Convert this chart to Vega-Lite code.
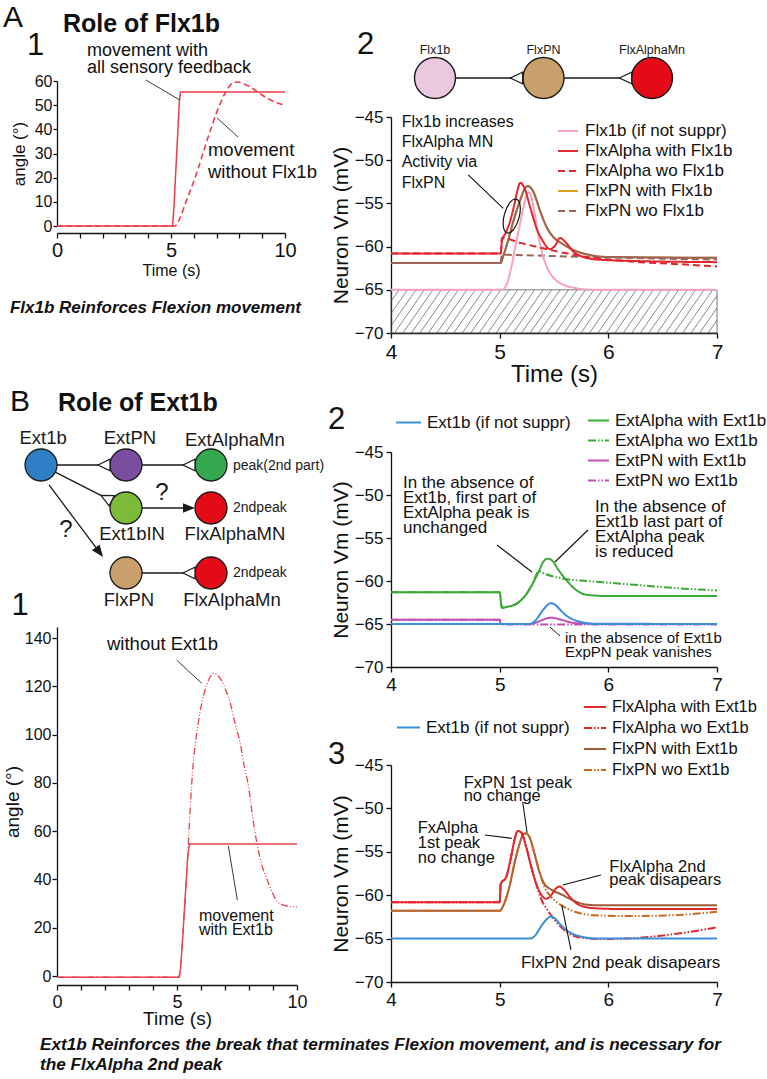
{
  "$schema": "https://vega.github.io/schema/vega-lite/v6.json",
  "background": "white",
  "padding": {"left": 3, "top": 0, "right": 0, "bottom": 0},
  "config": {
    "view": {"stroke": null},
    "font": "Liberation Sans",
    "axis": {"domainColor": "#111111", "tickColor": "#111111", "labelColor": "#111111", "titleColor": "#111111", "titleFontWeight": "normal", "grid": false, "domainWidth": 1.3, "tickWidth": 1.3, "tickSize": 5, "tickCount": 30, "labelFont": "Liberation Sans", "titleFont": "Liberation Sans", "labelFlush": false, "labelOverlap": false},
    "legend": {"padding": 0, "labelColor": "#111111", "labelFont": "Liberation Sans"}
  },
  "datasets": {
    "a1": [
      {"s": "with", "t": 0, "v": 0}, {"s": "with", "t": 5.07, "v": 0}, {"s": "with", "t": 5.13, "v": 8}, {"s": "with", "t": 5.37, "v": 52}, {"s": "with", "t": 5.42, "v": 55.5}, {"s": "with", "t": 10, "v": 55.5},
      {"s": "without", "t": 0, "v": 0}, {"s": "without", "t": 5.18, "v": 0}, {"s": "without", "t": 5.3, "v": 1.5}, {"s": "without", "t": 5.45, "v": 4.5}, {"s": "without", "t": 5.6, "v": 8.5}, {"s": "without", "t": 5.8, "v": 13.5}, {"s": "without", "t": 6.0, "v": 18.5}, {"s": "without", "t": 6.2, "v": 24}, {"s": "without", "t": 6.4, "v": 30}, {"s": "without", "t": 6.6, "v": 36}, {"s": "without", "t": 6.8, "v": 41.5}, {"s": "without", "t": 7.0, "v": 47}, {"s": "without", "t": 7.2, "v": 51.5}, {"s": "without", "t": 7.4, "v": 55.5}, {"s": "without", "t": 7.6, "v": 58.3}, {"s": "without", "t": 7.8, "v": 59.6}, {"s": "without", "t": 8.0, "v": 59.5}, {"s": "without", "t": 8.2, "v": 58.8}, {"s": "without", "t": 8.4, "v": 57.9}, {"s": "without", "t": 8.6, "v": 56.8}, {"s": "without", "t": 8.8, "v": 55.5}, {"s": "without", "t": 9.0, "v": 54.2}, {"s": "without", "t": 9.2, "v": 53}, {"s": "without", "t": 9.4, "v": 52}, {"s": "without", "t": 9.6, "v": 51.1}, {"s": "without", "t": 9.8, "v": 50.5}, {"s": "without", "t": 9.95, "v": 50.2}
    ],
    "b1": [
      {"s": "with", "t": 0, "v": -0.5}, {"s": "with", "t": 5.08, "v": -0.5}, {"s": "with", "t": 5.15, "v": 3}, {"s": "with", "t": 5.25, "v": 18}, {"s": "with", "t": 5.35, "v": 34}, {"s": "with", "t": 5.45, "v": 50}, {"s": "with", "t": 5.52, "v": 54.7}, {"s": "with", "t": 10, "v": 54.7},
      {"s": "without", "t": 0, "v": -0.5}, {"s": "without", "t": 5.08, "v": -0.5}, {"s": "without", "t": 5.15, "v": 3}, {"s": "without", "t": 5.25, "v": 18}, {"s": "without", "t": 5.35, "v": 34}, {"s": "without", "t": 5.45, "v": 50}, {"s": "without", "t": 5.5, "v": 60}, {"s": "without", "t": 5.56, "v": 71}, {"s": "without", "t": 5.65, "v": 85}, {"s": "without", "t": 5.76, "v": 96}, {"s": "without", "t": 5.87, "v": 104}, {"s": "without", "t": 5.97, "v": 110}, {"s": "without", "t": 6.1, "v": 116}, {"s": "without", "t": 6.25, "v": 121}, {"s": "without", "t": 6.4, "v": 124.2}, {"s": "without", "t": 6.55, "v": 125.5}, {"s": "without", "t": 6.7, "v": 124.5}, {"s": "without", "t": 6.88, "v": 122}, {"s": "without", "t": 7.05, "v": 118}, {"s": "without", "t": 7.22, "v": 113}, {"s": "without", "t": 7.4, "v": 105.5}, {"s": "without", "t": 7.64, "v": 96}, {"s": "without", "t": 7.8, "v": 87}, {"s": "without", "t": 7.99, "v": 78}, {"s": "without", "t": 8.15, "v": 66}, {"s": "without", "t": 8.33, "v": 55}, {"s": "without", "t": 8.55, "v": 45.5}, {"s": "without", "t": 8.75, "v": 40}, {"s": "without", "t": 8.95, "v": 35}, {"s": "without", "t": 9.17, "v": 31}, {"s": "without", "t": 9.4, "v": 29.5}, {"s": "without", "t": 9.58, "v": 29}, {"s": "without", "t": 9.8, "v": 28.7}, {"s": "without", "t": 10, "v": 28.6}
    ],
    "a2": [
      {"s": "Flx1b (if not suppr)", "t": 4, "v": -65}, {"s": "Flx1b (if not suppr)", "t": 5.02, "v": -65}, {"s": "Flx1b (if not suppr)", "t": 5.06, "v": -64.5}, {"s": "Flx1b (if not suppr)", "t": 5.1, "v": -62.8}, {"s": "Flx1b (if not suppr)", "t": 5.14, "v": -60.3}, {"s": "Flx1b (if not suppr)", "t": 5.18, "v": -57.8}, {"s": "Flx1b (if not suppr)", "t": 5.22, "v": -55.4}, {"s": "Flx1b (if not suppr)", "t": 5.25, "v": -54.0}, {"s": "Flx1b (if not suppr)", "t": 5.27, "v": -53.7}, {"s": "Flx1b (if not suppr)", "t": 5.29, "v": -54.2}, {"s": "Flx1b (if not suppr)", "t": 5.32, "v": -56.0}, {"s": "Flx1b (if not suppr)", "t": 5.35, "v": -58.3}, {"s": "Flx1b (if not suppr)", "t": 5.38, "v": -60.2}, {"s": "Flx1b (if not suppr)", "t": 5.42, "v": -61.9}, {"s": "Flx1b (if not suppr)", "t": 5.47, "v": -63.2}, {"s": "Flx1b (if not suppr)", "t": 5.53, "v": -64.0}, {"s": "Flx1b (if not suppr)", "t": 5.6, "v": -64.5}, {"s": "Flx1b (if not suppr)", "t": 5.7, "v": -64.8}, {"s": "Flx1b (if not suppr)", "t": 5.85, "v": -65}, {"s": "Flx1b (if not suppr)", "t": 7, "v": -65},
      {"s": "FlxAlpha with Flx1b", "t": 4, "v": -60.8}, {"s": "FlxAlpha with Flx1b", "t": 5.01, "v": -60.8}, {"s": "FlxAlpha with Flx1b", "t": 5.02, "v": -59.4}, {"s": "FlxAlpha with Flx1b", "t": 5.06, "v": -58.3}, {"s": "FlxAlpha with Flx1b", "t": 5.1, "v": -56.9}, {"s": "FlxAlpha with Flx1b", "t": 5.13, "v": -55.4}, {"s": "FlxAlpha with Flx1b", "t": 5.16, "v": -53.7}, {"s": "FlxAlpha with Flx1b", "t": 5.19, "v": -52.6}, {"s": "FlxAlpha with Flx1b", "t": 5.23, "v": -53.3}, {"s": "FlxAlpha with Flx1b", "t": 5.28, "v": -55.4}, {"s": "FlxAlpha with Flx1b", "t": 5.34, "v": -57.9}, {"s": "FlxAlpha with Flx1b", "t": 5.4, "v": -59.4}, {"s": "FlxAlpha with Flx1b", "t": 5.46, "v": -60.3}, {"s": "FlxAlpha with Flx1b", "t": 5.51, "v": -59.9}, {"s": "FlxAlpha with Flx1b", "t": 5.555, "v": -59.0}, {"s": "FlxAlpha with Flx1b", "t": 5.6, "v": -59.4}, {"s": "FlxAlpha with Flx1b", "t": 5.68, "v": -60.6}, {"s": "FlxAlpha with Flx1b", "t": 5.77, "v": -61.2}, {"s": "FlxAlpha with Flx1b", "t": 5.9, "v": -61.5}, {"s": "FlxAlpha with Flx1b", "t": 6.2, "v": -61.65}, {"s": "FlxAlpha with Flx1b", "t": 7, "v": -61.8},
      {"s": "FlxAlpha wo Flx1b", "t": 4, "v": -60.8}, {"s": "FlxAlpha wo Flx1b", "t": 5.01, "v": -60.8}, {"s": "FlxAlpha wo Flx1b", "t": 5.02, "v": -59.0}, {"s": "FlxAlpha wo Flx1b", "t": 5.2, "v": -59.6}, {"s": "FlxAlpha wo Flx1b", "t": 5.4, "v": -60.2}, {"s": "FlxAlpha wo Flx1b", "t": 5.6, "v": -60.75}, {"s": "FlxAlpha wo Flx1b", "t": 5.8, "v": -61.2}, {"s": "FlxAlpha wo Flx1b", "t": 6.0, "v": -61.5}, {"s": "FlxAlpha wo Flx1b", "t": 6.3, "v": -61.8}, {"s": "FlxAlpha wo Flx1b", "t": 6.6, "v": -62.0}, {"s": "FlxAlpha wo Flx1b", "t": 7, "v": -62.3},
      {"s": "FlxPN with Flx1b", "t": 4, "v": -61.9}, {"s": "FlxPN with Flx1b", "t": 5.01, "v": -61.9}, {"s": "FlxPN with Flx1b", "t": 5.03, "v": -61.2}, {"s": "FlxPN with Flx1b", "t": 5.08, "v": -59.2}, {"s": "FlxPN with Flx1b", "t": 5.13, "v": -56.9}, {"s": "FlxPN with Flx1b", "t": 5.19, "v": -54.6}, {"s": "FlxPN with Flx1b", "t": 5.23, "v": -53.3}, {"s": "FlxPN with Flx1b", "t": 5.26, "v": -53.0}, {"s": "FlxPN with Flx1b", "t": 5.31, "v": -53.65}, {"s": "FlxPN with Flx1b", "t": 5.37, "v": -55.8}, {"s": "FlxPN with Flx1b", "t": 5.43, "v": -57.7}, {"s": "FlxPN with Flx1b", "t": 5.49, "v": -58.85}, {"s": "FlxPN with Flx1b", "t": 5.58, "v": -59.7}, {"s": "FlxPN with Flx1b", "t": 5.68, "v": -60.4}, {"s": "FlxPN with Flx1b", "t": 5.77, "v": -60.8}, {"s": "FlxPN with Flx1b", "t": 5.98, "v": -61.2}, {"s": "FlxPN with Flx1b", "t": 7, "v": -61.3},
      {"s": "FlxPN wo Flx1b", "t": 4, "v": -61.9}, {"s": "FlxPN wo Flx1b", "t": 5.01, "v": -61.9}, {"s": "FlxPN wo Flx1b", "t": 5.02, "v": -60.95}, {"s": "FlxPN wo Flx1b", "t": 5.5, "v": -61.1}, {"s": "FlxPN wo Flx1b", "t": 6, "v": -61.25}, {"s": "FlxPN wo Flx1b", "t": 6.5, "v": -61.4}, {"s": "FlxPN wo Flx1b", "t": 7, "v": -61.5}
    ],
    "b2": [
      {"s": "ExtAlpha with Ext1b", "t": 4, "v": -61.3}, {"s": "ExtAlpha with Ext1b", "t": 5.0, "v": -61.3}, {"s": "ExtAlpha with Ext1b", "t": 5.02, "v": -63.1}, {"s": "ExtAlpha with Ext1b", "t": 5.07, "v": -63.0}, {"s": "ExtAlpha with Ext1b", "t": 5.16, "v": -62.6}, {"s": "ExtAlpha with Ext1b", "t": 5.235, "v": -61.7}, {"s": "ExtAlpha with Ext1b", "t": 5.3, "v": -60.4}, {"s": "ExtAlpha with Ext1b", "t": 5.36, "v": -58.9}, {"s": "ExtAlpha with Ext1b", "t": 5.4, "v": -57.8}, {"s": "ExtAlpha with Ext1b", "t": 5.44, "v": -57.4}, {"s": "ExtAlpha with Ext1b", "t": 5.48, "v": -57.6}, {"s": "ExtAlpha with Ext1b", "t": 5.54, "v": -58.7}, {"s": "ExtAlpha with Ext1b", "t": 5.62, "v": -60.0}, {"s": "ExtAlpha with Ext1b", "t": 5.71, "v": -61.1}, {"s": "ExtAlpha with Ext1b", "t": 5.8, "v": -61.6}, {"s": "ExtAlpha with Ext1b", "t": 6.0, "v": -61.75}, {"s": "ExtAlpha with Ext1b", "t": 7, "v": -61.75},
      {"s": "ExtAlpha wo Ext1b", "t": 4, "v": -61.3}, {"s": "ExtAlpha wo Ext1b", "t": 5.0, "v": -61.3}, {"s": "ExtAlpha wo Ext1b", "t": 5.02, "v": -63.1}, {"s": "ExtAlpha wo Ext1b", "t": 5.07, "v": -63.0}, {"s": "ExtAlpha wo Ext1b", "t": 5.16, "v": -62.6}, {"s": "ExtAlpha wo Ext1b", "t": 5.235, "v": -61.7}, {"s": "ExtAlpha wo Ext1b", "t": 5.3, "v": -60.4}, {"s": "ExtAlpha wo Ext1b", "t": 5.36, "v": -58.9}, {"s": "ExtAlpha wo Ext1b", "t": 5.42, "v": -59.2}, {"s": "ExtAlpha wo Ext1b", "t": 5.5, "v": -59.5}, {"s": "ExtAlpha wo Ext1b", "t": 5.62, "v": -59.8}, {"s": "ExtAlpha wo Ext1b", "t": 5.8, "v": -60.0}, {"s": "ExtAlpha wo Ext1b", "t": 6.0, "v": -60.2}, {"s": "ExtAlpha wo Ext1b", "t": 6.3, "v": -60.5}, {"s": "ExtAlpha wo Ext1b", "t": 6.6, "v": -60.8}, {"s": "ExtAlpha wo Ext1b", "t": 7, "v": -61.1},
      {"s": "ExtPN with Ext1b", "t": 4, "v": -64.5}, {"s": "ExtPN with Ext1b", "t": 5.0, "v": -64.5}, {"s": "ExtPN with Ext1b", "t": 5.01, "v": -65}, {"s": "ExtPN with Ext1b", "t": 5.28, "v": -65}, {"s": "ExtPN with Ext1b", "t": 5.33, "v": -64.85}, {"s": "ExtPN with Ext1b", "t": 5.38, "v": -64.6}, {"s": "ExtPN with Ext1b", "t": 5.43, "v": -64.35}, {"s": "ExtPN with Ext1b", "t": 5.47, "v": -64.27}, {"s": "ExtPN with Ext1b", "t": 5.52, "v": -64.35}, {"s": "ExtPN with Ext1b", "t": 5.58, "v": -64.55}, {"s": "ExtPN with Ext1b", "t": 5.65, "v": -64.8}, {"s": "ExtPN with Ext1b", "t": 5.75, "v": -64.95}, {"s": "ExtPN with Ext1b", "t": 7, "v": -65},
      {"s": "ExtPN wo Ext1b", "t": 4, "v": -64.5}, {"s": "ExtPN wo Ext1b", "t": 5.0, "v": -64.5}, {"s": "ExtPN wo Ext1b", "t": 5.01, "v": -65.05}, {"s": "ExtPN wo Ext1b", "t": 7, "v": -65.05},
      {"s": "Ext1b (if not suppr)", "t": 4, "v": -65}, {"s": "Ext1b (if not suppr)", "t": 5.28, "v": -65}, {"s": "Ext1b (if not suppr)", "t": 5.33, "v": -64.6}, {"s": "Ext1b (if not suppr)", "t": 5.38, "v": -63.7}, {"s": "Ext1b (if not suppr)", "t": 5.43, "v": -62.9}, {"s": "Ext1b (if not suppr)", "t": 5.47, "v": -62.55}, {"s": "Ext1b (if not suppr)", "t": 5.51, "v": -62.75}, {"s": "Ext1b (if not suppr)", "t": 5.56, "v": -63.4}, {"s": "Ext1b (if not suppr)", "t": 5.62, "v": -64.1}, {"s": "Ext1b (if not suppr)", "t": 5.7, "v": -64.6}, {"s": "Ext1b (if not suppr)", "t": 5.8, "v": -64.9}, {"s": "Ext1b (if not suppr)", "t": 5.9, "v": -65}, {"s": "Ext1b (if not suppr)", "t": 7, "v": -65}
    ],
    "b3": [
      {"s": "FlxAlpha with Ext1b", "t": 4, "v": -60.8}, {"s": "FlxAlpha with Ext1b", "t": 5.0, "v": -60.8}, {"s": "FlxAlpha with Ext1b", "t": 5.01, "v": -58.7}, {"s": "FlxAlpha with Ext1b", "t": 5.06, "v": -57.9}, {"s": "FlxAlpha with Ext1b", "t": 5.105, "v": -55.6}, {"s": "FlxAlpha with Ext1b", "t": 5.136, "v": -53.65}, {"s": "FlxAlpha with Ext1b", "t": 5.167, "v": -52.6}, {"s": "FlxAlpha with Ext1b", "t": 5.2, "v": -52.8}, {"s": "FlxAlpha with Ext1b", "t": 5.243, "v": -54.4}, {"s": "FlxAlpha with Ext1b", "t": 5.29, "v": -56.7}, {"s": "FlxAlpha with Ext1b", "t": 5.335, "v": -58.65}, {"s": "FlxAlpha with Ext1b", "t": 5.38, "v": -59.9}, {"s": "FlxAlpha with Ext1b", "t": 5.43, "v": -60.4}, {"s": "FlxAlpha with Ext1b", "t": 5.474, "v": -60.0}, {"s": "FlxAlpha with Ext1b", "t": 5.52, "v": -59.2}, {"s": "FlxAlpha with Ext1b", "t": 5.55, "v": -59.0}, {"s": "FlxAlpha with Ext1b", "t": 5.59, "v": -59.35}, {"s": "FlxAlpha with Ext1b", "t": 5.66, "v": -60.4}, {"s": "FlxAlpha with Ext1b", "t": 5.735, "v": -61.15}, {"s": "FlxAlpha with Ext1b", "t": 5.87, "v": -61.5}, {"s": "FlxAlpha with Ext1b", "t": 6.15, "v": -61.6}, {"s": "FlxAlpha with Ext1b", "t": 7, "v": -61.6},
      {"s": "FlxAlpha wo Ext1b", "t": 4, "v": -60.8}, {"s": "FlxAlpha wo Ext1b", "t": 5.0, "v": -60.8}, {"s": "FlxAlpha wo Ext1b", "t": 5.01, "v": -58.7}, {"s": "FlxAlpha wo Ext1b", "t": 5.06, "v": -57.9}, {"s": "FlxAlpha wo Ext1b", "t": 5.105, "v": -55.6}, {"s": "FlxAlpha wo Ext1b", "t": 5.136, "v": -53.65}, {"s": "FlxAlpha wo Ext1b", "t": 5.167, "v": -52.6}, {"s": "FlxAlpha wo Ext1b", "t": 5.2, "v": -52.8}, {"s": "FlxAlpha wo Ext1b", "t": 5.243, "v": -54.4}, {"s": "FlxAlpha wo Ext1b", "t": 5.29, "v": -56.7}, {"s": "FlxAlpha wo Ext1b", "t": 5.335, "v": -58.65}, {"s": "FlxAlpha wo Ext1b", "t": 5.38, "v": -60.4}, {"s": "FlxAlpha wo Ext1b", "t": 5.44, "v": -61.7}, {"s": "FlxAlpha wo Ext1b", "t": 5.535, "v": -63.3}, {"s": "FlxAlpha wo Ext1b", "t": 5.63, "v": -64.35}, {"s": "FlxAlpha wo Ext1b", "t": 5.75, "v": -64.9}, {"s": "FlxAlpha wo Ext1b", "t": 5.93, "v": -65.05}, {"s": "FlxAlpha wo Ext1b", "t": 6.15, "v": -65.0}, {"s": "FlxAlpha wo Ext1b", "t": 6.46, "v": -64.7}, {"s": "FlxAlpha wo Ext1b", "t": 6.76, "v": -64.2}, {"s": "FlxAlpha wo Ext1b", "t": 7, "v": -63.7},
      {"s": "FlxPN with Ext1b", "t": 4, "v": -61.8}, {"s": "FlxPN with Ext1b", "t": 5.0, "v": -61.8}, {"s": "FlxPN with Ext1b", "t": 5.04, "v": -61.0}, {"s": "FlxPN with Ext1b", "t": 5.09, "v": -59.0}, {"s": "FlxPN with Ext1b", "t": 5.136, "v": -56.35}, {"s": "FlxPN with Ext1b", "t": 5.18, "v": -54.2}, {"s": "FlxPN with Ext1b", "t": 5.22, "v": -52.96}, {"s": "FlxPN with Ext1b", "t": 5.243, "v": -52.9}, {"s": "FlxPN with Ext1b", "t": 5.274, "v": -53.3}, {"s": "FlxPN with Ext1b", "t": 5.32, "v": -55.2}, {"s": "FlxPN with Ext1b", "t": 5.366, "v": -57.3}, {"s": "FlxPN with Ext1b", "t": 5.41, "v": -58.65}, {"s": "FlxPN with Ext1b", "t": 5.474, "v": -59.35}, {"s": "FlxPN with Ext1b", "t": 5.566, "v": -59.9}, {"s": "FlxPN with Ext1b", "t": 5.66, "v": -60.5}, {"s": "FlxPN with Ext1b", "t": 5.75, "v": -60.96}, {"s": "FlxPN with Ext1b", "t": 5.87, "v": -61.15}, {"s": "FlxPN with Ext1b", "t": 7, "v": -61.15},
      {"s": "FlxPN wo Ext1b", "t": 4, "v": -61.8}, {"s": "FlxPN wo Ext1b", "t": 5.0, "v": -61.8}, {"s": "FlxPN wo Ext1b", "t": 5.04, "v": -61.0}, {"s": "FlxPN wo Ext1b", "t": 5.09, "v": -59.0}, {"s": "FlxPN wo Ext1b", "t": 5.136, "v": -56.35}, {"s": "FlxPN wo Ext1b", "t": 5.18, "v": -54.2}, {"s": "FlxPN wo Ext1b", "t": 5.22, "v": -52.96}, {"s": "FlxPN wo Ext1b", "t": 5.243, "v": -52.9}, {"s": "FlxPN wo Ext1b", "t": 5.274, "v": -53.3}, {"s": "FlxPN wo Ext1b", "t": 5.32, "v": -55.2}, {"s": "FlxPN wo Ext1b", "t": 5.366, "v": -57.3}, {"s": "FlxPN wo Ext1b", "t": 5.41, "v": -59.0}, {"s": "FlxPN wo Ext1b", "t": 5.474, "v": -60.2}, {"s": "FlxPN wo Ext1b", "t": 5.566, "v": -61.15}, {"s": "FlxPN wo Ext1b", "t": 5.69, "v": -61.9}, {"s": "FlxPN wo Ext1b", "t": 5.87, "v": -62.3}, {"s": "FlxPN wo Ext1b", "t": 6.15, "v": -62.4}, {"s": "FlxPN wo Ext1b", "t": 6.61, "v": -62.3}, {"s": "FlxPN wo Ext1b", "t": 7, "v": -61.9},
      {"s": "Ext1b (if not suppr)", "t": 4, "v": -65}, {"s": "Ext1b (if not suppr)", "t": 5.29, "v": -65}, {"s": "Ext1b (if not suppr)", "t": 5.33, "v": -64.6}, {"s": "Ext1b (if not suppr)", "t": 5.38, "v": -63.6}, {"s": "Ext1b (if not suppr)", "t": 5.43, "v": -62.8}, {"s": "Ext1b (if not suppr)", "t": 5.47, "v": -62.45}, {"s": "Ext1b (if not suppr)", "t": 5.51, "v": -62.7}, {"s": "Ext1b (if not suppr)", "t": 5.56, "v": -63.4}, {"s": "Ext1b (if not suppr)", "t": 5.62, "v": -64.1}, {"s": "Ext1b (if not suppr)", "t": 5.7, "v": -64.6}, {"s": "Ext1b (if not suppr)", "t": 5.8, "v": -64.9}, {"s": "Ext1b (if not suppr)", "t": 5.9, "v": -65}, {"s": "Ext1b (if not suppr)", "t": 7, "v": -65}
    ],
    "hatch": [
      {"h0": 3.72, "h1": 3.996}, {"h0": 3.798, "h1": 4.074}, {"h0": 3.876, "h1": 4.152}, {"h0": 3.954, "h1": 4.23}, {"h0": 4.032, "h1": 4.308}, {"h0": 4.11, "h1": 4.386}, {"h0": 4.188, "h1": 4.464}, {"h0": 4.266, "h1": 4.542}, {"h0": 4.344, "h1": 4.62}, {"h0": 4.422, "h1": 4.698}, {"h0": 4.5, "h1": 4.776}, {"h0": 4.578, "h1": 4.854}, {"h0": 4.656, "h1": 4.932}, {"h0": 4.734, "h1": 5.01}, {"h0": 4.812, "h1": 5.088}, {"h0": 4.89, "h1": 5.166}, {"h0": 4.968, "h1": 5.244}, {"h0": 5.046, "h1": 5.322}, {"h0": 5.124, "h1": 5.4}, {"h0": 5.202, "h1": 5.478}, {"h0": 5.28, "h1": 5.556}, {"h0": 5.358, "h1": 5.634}, {"h0": 5.436, "h1": 5.712}, {"h0": 5.514, "h1": 5.79}, {"h0": 5.592, "h1": 5.868}, {"h0": 5.67, "h1": 5.946}, {"h0": 5.748, "h1": 6.024}, {"h0": 5.826, "h1": 6.102}, {"h0": 5.904, "h1": 6.18}, {"h0": 5.982, "h1": 6.258}, {"h0": 6.06, "h1": 6.336}, {"h0": 6.138, "h1": 6.414}, {"h0": 6.216, "h1": 6.492}, {"h0": 6.294, "h1": 6.57}, {"h0": 6.372, "h1": 6.648}, {"h0": 6.45, "h1": 6.726}, {"h0": 6.528, "h1": 6.804}, {"h0": 6.606, "h1": 6.882}, {"h0": 6.684, "h1": 6.96}, {"h0": 6.762, "h1": 7.038}, {"h0": 6.84, "h1": 7.116}, {"h0": 6.918, "h1": 7.194}
    ],
    "nodesA": [
      {"name": "Flx1b", "x": 0, "y": 0}, {"name": "FlxPN", "x": 1, "y": 0}, {"name": "FlxAlphaMn", "x": 2, "y": 0}
    ],
    "segA": [
      {"x": 0, "y": 0, "x2": 1, "y2": 0}, {"x": 1, "y": 0, "x2": 2, "y2": 0}
    ],
    "synA": [
      {"x": 0.751, "y": 0, "dir": 0}, {"x": 1.756, "y": 0, "dir": 0}
    ],
    "nodesB": [
      {"name": "Ext1b", "x": 0, "y": 0}, {"name": "ExtPN", "x": 1, "y": 0}, {"name": "ExtAlphaMn", "x": 2, "y": 0},
      {"name": "Ext1bIN", "x": 1, "y": 1}, {"name": "FlxAlphaMN", "x": 2, "y": 1},
      {"name": "FlxPN", "x": 1, "y": 2.512}, {"name": "FlxAlphaMn", "x": 2, "y": 2.512}
    ],
    "segB": [
      {"x": 0, "y": 0, "x2": 1, "y2": 0}, {"x": 1, "y": 0, "x2": 2, "y2": 0},
      {"x": 0.168, "y": 0.167, "x2": 0.704, "y2": 0.707},
      {"x": 1, "y": 1, "x2": 1.741, "y2": 1},
      {"x": 0.094, "y": 0.465, "x2": 0.687, "y2": 2.028},
      {"x": 1, "y": 2.512, "x2": 2, "y2": 2.512}
    ],
    "synB": [
      {"x": 0.741, "y": 0, "dir": 0}, {"x": 1.741, "y": 0, "dir": 0}, {"x": 0.768, "y": 0.77, "dir": 26.6}, {"x": 1.741, "y": 2.512, "dir": 0}
    ],
    "arrB": [
      {"x": 1.741, "y": 1, "dir": 0}, {"x": 0.687, "y": 2.028, "dir": 53.1}
    ],
    "labB": [
      {"label": "Ext1b", "x": 0.024, "y": -0.628}, {"label": "ExtPN", "x": 1.047, "y": -0.628},
      {"label": "Ext1bIN", "x": 1.071, "y": 1.605}, {"label": "FlxAlphaMN", "x": 2.282, "y": 1.605},
      {"label": "FlxPN", "x": 1.035, "y": 3.14}, {"label": "FlxAlphaMn", "x": 2.247, "y": 3.14}
    ]
  },
  "columns": 2,
  "align": "none",
  "bounds": "flush",
  "spacing": {"row": 0, "column": 94},
  "resolve": {"scale": {"color": "independent", "stroke": "independent", "strokeDash": "independent", "fill": "independent"}},
  "concat": [
    {
      "width": 240,
      "height": 117,
      "data": {"values": [{}]},
      "layer": [
        {"mark": {"type": "text", "align": "left", "baseline": "middle", "fontSize": 30, "color": "#111111"},
         "encoding": {"x": {"datum": -0.225, "scale": {"domain": [0, 1]}, "axis": null}, "y": {"datum": 0.154, "scale": {"domain": [0, 1], "reverse": true}, "axis": null}, "text": {"value": "A"}}},
        {"mark": {"type": "text", "align": "left", "baseline": "middle", "fontSize": 25, "fontWeight": "bold", "color": "#111111"},
         "encoding": {"x": {"datum": 0.025}, "y": {"datum": 0.205}, "text": {"value": "Role of Flx1b"}}},
        {"mark": {"type": "text", "align": "left", "baseline": "middle", "fontSize": 31, "color": "#111111"},
         "encoding": {"x": {"datum": -0.125}, "y": {"datum": 0.393}, "text": {"value": "1"}}}
      ]
    },
    {
      "width": 326,
      "height": 117,
      "layer": [
        {"data": {"name": "segA"},
         "mark": {"type": "rule", "color": "#1a1a1a", "strokeWidth": 1.3},
         "encoding": {
           "x": {"field": "x", "type": "quantitative", "scale": {"domain": [-0.4055, 2.599], "nice": false, "zero": false}, "axis": null},
           "y": {"field": "y", "type": "quantitative", "scale": {"domain": [-1, 2], "nice": false, "zero": false}, "axis": null},
           "x2": {"field": "x2"}, "y2": {"field": "y2"}
         }},
        {"data": {"name": "nodesA"},
         "mark": {"type": "point", "shape": "circle", "filled": true, "size": 1681, "stroke": "#1a1a1a", "strokeWidth": 1.4, "opacity": 1},
         "encoding": {
           "x": {"field": "x", "type": "quantitative"}, "y": {"field": "y", "type": "quantitative"},
           "fill": {"field": "name", "type": "nominal", "legend": null, "scale": {"domain": ["Flx1b", "FlxPN", "FlxAlphaMn"], "range": ["#ecc8e0", "#c9a06b", "#e30b17"]}}
         }},
        {"data": {"name": "synA"},
         "mark": {"type": "point", "shape": "M-1,0L1,-0.95L1,0.95Z", "filled": true, "fill": "white", "stroke": "#1a1a1a", "strokeWidth": 1.2, "size": 150, "opacity": 1},
         "encoding": {"x": {"field": "x", "type": "quantitative"}, "y": {"field": "y", "type": "quantitative"}, "angle": {"field": "dir", "type": "quantitative", "scale": null}}},
        {"data": {"name": "nodesA"},
         "mark": {"type": "text", "align": "center", "baseline": "middle", "fontSize": 12.5, "color": "#1a1a1a"},
         "encoding": {"x": {"field": "x", "type": "quantitative"}, "y": {"datum": 0.718}, "text": {"field": "name"}}},
        {"data": {"values": [{}]},
         "mark": {"type": "text", "align": "left", "baseline": "middle", "fontSize": 31, "color": "#111111"},
         "encoding": {"x": {"datum": -0.719}, "y": {"datum": 0.846}, "text": {"value": "2"}}}
      ]
    },
    {
      "width": 240,
      "height": 216,
      "data": {"name": "a1"},
      "layer": [
        {"transform": [{"filter": "datum.s == 'with'"}],
         "mark": {"type": "line", "color": "#ec3d48", "strokeWidth": 1.5},
         "encoding": {
           "x": {"field": "t", "type": "quantitative", "scale": {"domain": [0, 10], "range": [0, 228], "nice": false, "zero": false},
                 "axis": {"values": [0, 1, 2, 3, 4, 5, 6, 7, 8, 9, 10], "tickCount": 30, "format": "d", "labelExpr": "datum.value % 5 == 0 ? datum.label : ''", "title": "Time (s)", "offset": -100, "labelFontSize": 20, "titleFontSize": 16, "labelPadding": 2, "titlePadding": 2}},
           "y": {"field": "v", "type": "quantitative", "scale": {"domain": [0, 60], "range": [109, -36], "nice": false, "zero": false},
                 "axis": {"values": [0, 10, 20, 30, 40, 50, 60], "tickCount": 30, "format": "d", "title": "angle (°)", "labelFontSize": 16, "titleFontSize": 17, "tickSize": 4, "labelPadding": 1, "titlePadding": 6}}
         }},
        {"transform": [{"filter": "datum.s == 'without'"}],
         "mark": {"type": "line", "color": "#ec3d48", "strokeWidth": 1.6, "strokeDash": [6, 3.5], "interpolate": "monotone"},
         "encoding": {"x": {"field": "t", "type": "quantitative"}, "y": {"field": "v", "type": "quantitative"}}},
        {"data": {"values": [{}]},
         "mark": {"type": "text", "align": "left", "baseline": "top", "fontSize": 18, "lineHeight": 17, "lineBreak": "\n", "color": "#111111"},
         "encoding": {"x": {"datum": 1.316}, "y": {"datum": 76.0}, "text": {"value": "movement with\nall sensory feedback"}}},
        {"data": {"values": [{}]},
         "mark": {"type": "rule", "color": "#222222", "strokeWidth": 0.9},
         "encoding": {"x": {"datum": 3.9}, "y": {"datum": 60.4}, "x2": {"datum": 5.39}, "y2": {"datum": 52.1}}},
        {"data": {"values": [{}]},
         "mark": {"type": "text", "align": "left", "baseline": "top", "fontSize": 18.5, "lineHeight": 22, "lineBreak": "\n", "color": "#111111"},
         "encoding": {"x": {"datum": 6.62}, "y": {"datum": 35.2}, "text": {"value": "movement\nwithout Flx1b"}}},
        {"data": {"values": [{}]},
         "mark": {"type": "rule", "color": "#222222", "strokeWidth": 0.9},
         "encoding": {"x": {"datum": 7.02}, "y": {"datum": 44.7}, "x2": {"datum": 7.94}, "y2": {"datum": 36.8}}}
      ]
    },
    {
      "width": 326,
      "height": 216,
      "layer": [
        {"data": {"name": "hatch"},
         "mark": {"type": "rule", "color": "#555555", "strokeWidth": 0.7, "clip": true},
         "encoding": {
           "x": {"field": "h0", "type": "quantitative", "scale": {"domain": [4, 7], "nice": false, "zero": false},
                 "axis": {"values": [4, 5, 6, 7], "tickCount": 30, "format": "d", "title": "Time (s)", "labelFontSize": 21, "titleFontSize": 24, "labelPadding": 3, "titlePadding": 0}},
           "x2": {"field": "h1"},
           "y": {"datum": -70, "scale": {"domain": [-70, -45], "nice": false, "zero": false},
                 "axis": {"values": [-70, -65, -60, -55, -50, -45], "tickCount": 30, "format": "d", "title": "Neuron Vm (mV)", "labelFontSize": 17, "titleFontSize": 21, "labelPadding": 3, "titlePadding": 3}},
           "y2": {"datum": -65}
         }},
        {"data": {"values": [{}]},
         "mark": {"type": "rect", "filled": false, "stroke": "#555555", "strokeWidth": 0.8},
         "encoding": {"x": {"datum": 4}, "x2": {"datum": 7}, "y": {"datum": -70}, "y2": {"datum": -65}}},
        {"data": {"name": "a2"},
         "transform": [{"filter": "datum.s == 'FlxPN with Flx1b' || datum.s == 'FlxPN wo Flx1b'"}],
         "mark": {"type": "line", "strokeWidth": 2, "interpolate": "monotone"},
         "encoding": {
           "x": {"field": "t", "type": "quantitative"}, "y": {"field": "v", "type": "quantitative"},
           "color": {"field": "s", "type": "nominal",
                     "scale": {"domain": ["Flx1b (if not suppr)", "FlxAlpha with Flx1b", "FlxAlpha wo Flx1b", "FlxPN with Flx1b", "FlxPN wo Flx1b"], "range": ["#f5a3b8", "#e3262d", "#e3262d", "#dba21e", "#9c6358"]},
                     "legend": {"orient": "none", "legendX": 166, "legendY": 3, "title": null, "symbolType": "stroke", "symbolSize": 400, "symbolStrokeWidth": 2, "labelFontSize": 17, "labelOffset": 6, "rowPadding": 1, "labelLimit": 300}},
           "strokeDash": {"field": "s", "type": "nominal",
                          "scale": {"domain": ["Flx1b (if not suppr)", "FlxAlpha with Flx1b", "FlxAlpha wo Flx1b", "FlxPN with Flx1b", "FlxPN wo Flx1b"], "range": [[1, 0], [1, 0], [7, 4], [1, 0], [7, 4]]},
                          "legend": {"orient": "none", "legendX": 166, "legendY": 3, "title": null, "symbolType": "stroke", "symbolSize": 400, "symbolStrokeWidth": 2, "labelFontSize": 17, "labelOffset": 6, "rowPadding": 1, "labelLimit": 300}}
         }},
        {"data": {"name": "a2"},
         "transform": [{"filter": "datum.s == 'FlxPN with Flx1b'"}],
         "mark": {"type": "line", "strokeWidth": 2, "interpolate": "monotone", "color": "#9c6358"},
         "encoding": {"x": {"field": "t", "type": "quantitative"}, "y": {"field": "v", "type": "quantitative"}}},
        {"data": {"name": "a2"},
         "transform": [{"filter": "datum.s == 'Flx1b (if not suppr)'"}],
         "mark": {"type": "line", "strokeWidth": 2, "interpolate": "monotone"},
         "encoding": {"x": {"field": "t", "type": "quantitative"}, "y": {"field": "v", "type": "quantitative"},
                      "color": {"field": "s", "type": "nominal"}, "strokeDash": {"field": "s", "type": "nominal"}}},
        {"data": {"name": "a2"},
         "transform": [{"filter": "datum.s == 'FlxAlpha with Flx1b' || datum.s == 'FlxAlpha wo Flx1b'"}],
         "mark": {"type": "line", "strokeWidth": 2, "interpolate": "monotone"},
         "encoding": {"x": {"field": "t", "type": "quantitative"}, "y": {"field": "v", "type": "quantitative"},
                      "color": {"field": "s", "type": "nominal"}, "strokeDash": {"field": "s", "type": "nominal"}}},
        {"data": {"values": [{}]},
         "mark": {"type": "text", "align": "left", "baseline": "top", "fontSize": 16, "lineHeight": 20.3, "lineBreak": "\n", "color": "#111111"},
         "encoding": {"x": {"datum": 4.098}, "y": {"datum": -44.63}, "text": {"value": "Flx1b increases\nFlxAlpha MN\nActivity via\nFlxPN"}}},
        {"data": {"values": [{}]},
         "mark": {"type": "rule", "color": "#111111", "strokeWidth": 1.1},
         "encoding": {"x": {"datum": 4.711}, "y": {"datum": -51.71}, "x2": {"datum": 5.033}, "y2": {"datum": -55.57}}},
        {"data": {"values": [{}]},
         "mark": {"type": "point", "shape": "M0,-1A0.43,1,0,1,1,0,1A0.43,1,0,1,1,0,-1Z", "size": 1225, "angle": 15, "filled": false, "stroke": "#111111", "strokeWidth": 1.2, "opacity": 1},
         "encoding": {"x": {"datum": 5.111}, "y": {"datum": -56.46}}}
      ]
    },
    {
      "width": 240,
      "height": 119,
      "data": {"values": [{}]},
      "layer": [
        {"mark": {"type": "text", "align": "left", "baseline": "middle", "fontSize": 17, "fontWeight": "bold", "fontStyle": "italic", "color": "#111111"},
         "encoding": {"x": {"datum": -0.196, "scale": {"domain": [0, 1]}, "axis": null}, "y": {"datum": -0.21, "scale": {"domain": [0, 1], "reverse": true}, "axis": null}, "text": {"value": "Flx1b Reinforces Flexion movement"}}},
        {"mark": {"type": "text", "align": "left", "baseline": "middle", "fontSize": 30, "color": "#111111"},
         "encoding": {"x": {"datum": -0.196}, "y": {"datum": 0.58}, "text": {"value": "B"}}},
        {"mark": {"type": "text", "align": "left", "baseline": "middle", "fontSize": 25, "fontWeight": "bold", "color": "#111111"},
         "encoding": {"x": {"datum": 0.004}, "y": {"datum": 0.588}, "text": {"value": "Role of Ext1b"}}}
      ]
    },
    {
      "width": 326,
      "height": 119,
      "data": {"values": [{}]},
      "mark": {"type": "text", "align": "left", "baseline": "middle", "fontSize": 31, "color": "#111111"},
      "encoding": {"x": {"datum": -0.193, "scale": {"domain": [0, 1]}, "axis": null}, "y": {"datum": 0.731, "scale": {"domain": [0, 1], "reverse": true}, "axis": null}, "text": {"value": "2"}}
    },
    {
      "width": 240,
      "height": 215,
      "layer": [
        {"data": {"name": "segB"},
         "mark": {"type": "rule", "color": "#1a1a1a", "strokeWidth": 1.3},
         "encoding": {
           "x": {"field": "x", "type": "quantitative", "scale": {"domain": [0.188, 3.012], "nice": false, "zero": false}, "axis": null},
           "y": {"field": "y", "type": "quantitative", "scale": {"domain": [-0.302, 4.698], "nice": false, "zero": false, "reverse": true}, "axis": null},
           "x2": {"field": "x2"}, "y2": {"field": "y2"}
         }},
        {"data": {"name": "nodesB"},
         "mark": {"type": "point", "shape": "circle", "filled": true, "size": 1024, "stroke": "#1a1a1a", "strokeWidth": 1.3, "opacity": 1},
         "encoding": {
           "x": {"field": "x", "type": "quantitative"}, "y": {"field": "y", "type": "quantitative"},
           "fill": {"field": "name", "type": "nominal", "legend": null, "scale": {"domain": ["Ext1b", "ExtPN", "ExtAlphaMn", "Ext1bIN", "FlxAlphaMN", "FlxPN", "FlxAlphaMn"], "range": ["#2f7fc6", "#7a4e9f", "#33a84e", "#7cba3a", "#e30b17", "#c9a06b", "#e30b17"]}}
         }},
        {"data": {"name": "synB"},
         "mark": {"type": "point", "shape": "M-1,0L1,-0.95L1,0.95Z", "filled": true, "fill": "white", "stroke": "#1a1a1a", "strokeWidth": 1.2, "size": 144, "opacity": 1},
         "encoding": {"x": {"field": "x", "type": "quantitative"}, "y": {"field": "y", "type": "quantitative"}, "angle": {"field": "dir", "type": "quantitative", "scale": null}}},
        {"data": {"name": "arrB"},
         "mark": {"type": "point", "shape": "M1,0L-1,-0.8L-1,0.8Z", "filled": true, "fill": "#1a1a1a", "strokeWidth": 0, "size": 144, "opacity": 1},
         "encoding": {"x": {"field": "x", "type": "quantitative"}, "y": {"field": "y", "type": "quantitative"}, "angle": {"field": "dir", "type": "quantitative", "scale": null}}},
        {"data": {"name": "labB"},
         "mark": {"type": "text", "align": "center", "baseline": "middle", "fontSize": 18.5, "color": "#1a1a1a"},
         "encoding": {"x": {"field": "x", "type": "quantitative"}, "y": {"field": "y", "type": "quantitative"}, "text": {"field": "label"}}},
        {"data": {"values": [{}]},
         "mark": {"type": "text", "align": "left", "baseline": "middle", "fontSize": 18.5, "color": "#1a1a1a"},
         "encoding": {"x": {"datum": 1.694}, "y": {"datum": -0.581}, "text": {"value": "ExtAlphaMn"}}},
        {"data": {"values": [{}]},
         "mark": {"type": "text", "align": "left", "baseline": "middle", "fontSize": 14, "color": "#1a1a1a"},
         "encoding": {"x": {"datum": 2.259}, "y": {"datum": 0.023}, "text": {"value": "peak(2nd part)"}}},
        {"data": {"values": [{}]},
         "mark": {"type": "text", "align": "left", "baseline": "middle", "fontSize": 14, "color": "#1a1a1a"},
         "encoding": {"x": {"datum": 2.259}, "y": {"datum": 1.0}, "text": {"value": "2ndpeak"}}},
        {"data": {"values": [{}]},
         "mark": {"type": "text", "align": "left", "baseline": "middle", "fontSize": 14, "color": "#1a1a1a"},
         "encoding": {"x": {"datum": 2.259}, "y": {"datum": 2.512}, "text": {"value": "2ndpeak"}}},
        {"data": {"values": [{}]},
         "mark": {"type": "text", "align": "center", "baseline": "middle", "fontSize": 24, "color": "#1a1a1a"},
         "encoding": {"x": {"datum": 1.424}, "y": {"datum": 0.651}, "text": {"value": "?"}}},
        {"data": {"values": [{}]},
         "mark": {"type": "text", "align": "center", "baseline": "middle", "fontSize": 24, "color": "#1a1a1a"},
         "encoding": {"x": {"datum": 0.294}, "y": {"datum": 1.512}, "text": {"value": "?"}}},
        {"data": {"values": [{}]},
         "mark": {"type": "text", "align": "center", "baseline": "middle", "fontSize": 31, "color": "#111111"},
         "encoding": {"x": {"datum": -0.247}, "y": {"datum": 3.279}, "text": {"value": "1"}}}
      ]
    },
    {
      "width": 326,
      "height": 215,
      "data": {"name": "b2"},
      "layer": [
        {"transform": [{"filter": "datum.s == 'ExtPN with Ext1b' || datum.s == 'ExtPN wo Ext1b'"}],
         "mark": {"type": "line", "strokeWidth": 2, "interpolate": "monotone"},
         "encoding": {
           "x": {"field": "t", "type": "quantitative", "scale": {"domain": [4, 7], "nice": false, "zero": false},
                 "axis": {"values": [4, 5, 6, 7], "tickCount": 30, "format": "d", "title": null, "labelFontSize": 19, "labelPadding": 3}},
           "y": {"field": "v", "type": "quantitative", "scale": {"domain": [-70, -45], "nice": false, "zero": false},
                 "axis": {"values": [-70, -65, -60, -55, -50, -45], "tickCount": 30, "format": "d", "title": "Neuron Vm (mV)", "labelFontSize": 17, "titleFontSize": 21, "labelPadding": 3, "titlePadding": 3}},
           "color": {"field": "s", "type": "nominal",
                     "scale": {"domain": ["ExtAlpha with Ext1b", "ExtAlpha wo Ext1b", "ExtPN with Ext1b", "ExtPN wo Ext1b"], "range": ["#3aa935", "#3aa935", "#c24fb4", "#c24fb4"]},
                     "legend": {"orient": "none", "legendX": 196, "legendY": -43, "title": null, "symbolType": "stroke", "symbolSize": 441, "symbolStrokeWidth": 2, "labelFontSize": 17, "labelOffset": 5, "rowPadding": -2, "labelLimit": 300}},
           "strokeDash": {"field": "s", "type": "nominal",
                          "scale": {"domain": ["ExtAlpha with Ext1b", "ExtAlpha wo Ext1b", "ExtPN with Ext1b", "ExtPN wo Ext1b"], "range": [[1, 0], [8, 2, 1.5, 2, 1.5, 2], [1, 0], [8, 2, 1.5, 2, 1.5, 2]]},
                          "legend": {"orient": "none", "legendX": 196, "legendY": -43, "title": null, "symbolType": "stroke", "symbolSize": 441, "symbolStrokeWidth": 2, "labelFontSize": 17, "labelOffset": 5, "rowPadding": -2, "labelLimit": 300}}
         }},
        {"transform": [{"filter": "datum.s == 'Ext1b (if not suppr)'"}],
         "mark": {"type": "line", "strokeWidth": 2, "interpolate": "monotone"},
         "encoding": {
           "x": {"field": "t", "type": "quantitative"}, "y": {"field": "v", "type": "quantitative"},
           "stroke": {"field": "s", "type": "nominal", "scale": {"domain": ["Ext1b (if not suppr)"], "range": ["#3b8ed8"]},
                      "legend": {"orient": "none", "legendX": 4, "legendY": -43, "title": null, "symbolType": "stroke", "symbolSize": 625, "symbolStrokeWidth": 2, "labelFontSize": 17, "labelOffset": 5, "labelLimit": 300}}
         }},
        {"transform": [{"filter": "datum.s == 'ExtAlpha with Ext1b' || datum.s == 'ExtAlpha wo Ext1b'"}],
         "mark": {"type": "line", "strokeWidth": 2, "interpolate": "monotone"},
         "encoding": {"x": {"field": "t", "type": "quantitative"}, "y": {"field": "v", "type": "quantitative"},
                      "color": {"field": "s", "type": "nominal"}, "strokeDash": {"field": "s", "type": "nominal"}}},
        {"data": {"values": [{}]},
         "mark": {"type": "text", "align": "left", "baseline": "top", "fontSize": 17, "lineHeight": 15, "lineBreak": "\n", "color": "#111111"},
         "encoding": {"x": {"datum": 4.11}, "y": {"datum": -47.64}, "text": {"value": "In the absence of\nExt1b, first part of\nExtAlpha peak is\nunchanged"}}},
        {"data": {"values": [{}]},
         "mark": {"type": "rule", "color": "#111111", "strokeWidth": 1.1},
         "encoding": {"x": {"datum": 4.975}, "y": {"datum": -55.81}, "x2": {"datum": 5.297}, "y2": {"datum": -58.95}}},
        {"data": {"values": [{}]},
         "mark": {"type": "text", "align": "left", "baseline": "top", "fontSize": 17, "lineHeight": 15, "lineBreak": "\n", "color": "#111111"},
         "encoding": {"x": {"datum": 5.877}, "y": {"datum": -50.51}, "text": {"value": "In the absence of\nExt1b last part of\nExtAlpha peak\nis reduced"}}},
        {"data": {"values": [{}]},
         "mark": {"type": "rule", "color": "#111111", "strokeWidth": 1.1},
         "encoding": {"x": {"datum": 5.813}, "y": {"datum": -54.07}, "x2": {"datum": 5.509}, "y2": {"datum": -57.79}}},
        {"data": {"values": [{}]},
         "mark": {"type": "text", "align": "left", "baseline": "top", "fontSize": 15, "lineHeight": 14, "lineBreak": "\n", "color": "#111111"},
         "encoding": {"x": {"datum": 5.601}, "y": {"datum": -65.87}, "text": {"value": "in the absence of Ext1b\nExpPN peak vanishes"}}},
        {"data": {"values": [{}]},
         "mark": {"type": "rule", "color": "#111111", "strokeWidth": 1},
         "encoding": {"x": {"datum": 5.555}, "y": {"datum": -66.4}, "x2": {"datum": 5.463}, "y2": {"datum": -65.35}}}
      ]
    },
    {
      "width": 240,
      "height": 98,
      "data": {"name": "b1"},
      "layer": [
        {"transform": [{"filter": "datum.s == 'with'"}],
         "mark": {"type": "line", "color": "#e8434e", "strokeWidth": 1.4},
         "encoding": {
           "x": {"field": "t", "type": "quantitative", "scale": {"domain": [0, 10], "nice": false, "zero": false},
                 "axis": {"values": [0, 1, 2, 3, 4, 5, 6, 7, 8, 9, 10], "tickCount": 30, "format": "d", "labelExpr": "datum.value % 5 == 0 ? datum.label : ''", "title": "Time (s)", "offset": 220, "labelFontSize": 18, "titleFontSize": 19, "labelPadding": 3, "titlePadding": -2}},
           "y": {"field": "v", "type": "quantitative", "scale": {"domain": [0, 144.6], "range": [309, -40], "nice": false, "zero": false},
                 "axis": {"values": [0, 20, 40, 60, 80, 100, 120, 140], "tickCount": 30, "format": "d", "title": "angle (°)", "labelFontSize": 16, "titleFontSize": 19, "labelPadding": 1, "titlePadding": 2}}
         }},
        {"transform": [{"filter": "datum.s == 'without'"}],
         "mark": {"type": "line", "color": "#e8434e", "strokeWidth": 1.3, "strokeDash": [7, 2, 1, 2, 1, 2], "interpolate": "monotone"},
         "encoding": {"x": {"field": "t", "type": "quantitative"}, "y": {"field": "v", "type": "quantitative"}}},
        {"data": {"values": [{}]},
         "mark": {"type": "text", "align": "left", "baseline": "middle", "fontSize": 18.5, "color": "#111111"},
         "encoding": {"x": {"datum": 2.083}, "y": {"datum": 137.6}, "text": {"value": "without Ext1b"}}},
        {"data": {"values": [{}]},
         "mark": {"type": "rule", "color": "#222222", "strokeWidth": 0.9},
         "encoding": {"x": {"datum": 4.986}, "y": {"datum": 130.9}, "x2": {"datum": 6.028}, "y2": {"datum": 121.3}}},
        {"data": {"values": [{}]},
         "mark": {"type": "text", "align": "left", "baseline": "top", "fontSize": 16, "lineHeight": 14.3, "lineBreak": "\n", "color": "#111111"},
         "encoding": {"x": {"datum": 5.917}, "y": {"datum": 28.13}, "text": {"value": "movement\nwith Ext1b"}}},
        {"data": {"values": [{}]},
         "mark": {"type": "rule", "color": "#222222", "strokeWidth": 0.9},
         "encoding": {"x": {"datum": 7.139}, "y": {"datum": 53.86}, "x2": {"datum": 7.514}, "y2": {"datum": 31.49}}}
      ]
    },
    {
      "width": 326,
      "height": 98,
      "data": {"values": [{}]},
      "mark": {"type": "text", "align": "left", "baseline": "middle", "fontSize": 31, "color": "#111111"},
      "encoding": {"x": {"datum": -0.193, "scale": {"domain": [0, 1]}, "axis": null}, "y": {"datum": 0.898, "scale": {"domain": [0, 1], "reverse": true}, "axis": null}, "text": {"value": "3"}}
    },
    {
      "width": 240,
      "height": 217,
      "data": {"values": [{}]},
      "mark": {"type": "text", "align": "left", "baseline": "top", "fontSize": 17.2, "fontWeight": "bold", "fontStyle": "italic", "lineHeight": 20, "lineBreak": "\n", "color": "#111111"},
      "encoding": {"x": {"datum": -0.071, "scale": {"domain": [0, 1]}, "axis": null}, "y": {"datum": 1.2475, "scale": {"domain": [0, 1], "reverse": true}, "axis": null}, "text": {"value": "Ext1b Reinforces the break that terminates Flexion movement, and is necessary for\nthe FlxAlpha 2nd peak"}}
    },
    {
      "width": 326,
      "height": 217,
      "data": {"name": "b3"},
      "layer": [
        {"transform": [{"filter": "datum.s == 'FlxPN with Ext1b'"}],
         "mark": {"type": "line", "strokeWidth": 2, "interpolate": "monotone"},
         "encoding": {
           "x": {"field": "t", "type": "quantitative", "scale": {"domain": [4, 7], "nice": false, "zero": false},
                 "axis": {"values": [4, 5, 6, 7], "tickCount": 30, "format": "d", "title": null, "labelFontSize": 19, "labelPadding": 3}},
           "y": {"field": "v", "type": "quantitative", "scale": {"domain": [-70, -45], "nice": false, "zero": false},
                 "axis": {"values": [-70, -65, -60, -55, -50, -45], "tickCount": 30, "format": "d", "title": "Neuron Vm (mV)", "labelFontSize": 17, "titleFontSize": 21, "labelPadding": 3, "titlePadding": 3}},
           "color": {"field": "s", "type": "nominal",
                     "scale": {"domain": ["FlxAlpha with Ext1b", "FlxAlpha wo Ext1b", "FlxPN with Ext1b", "FlxPN wo Ext1b"], "range": ["#e4252c", "#e4252c", "#9f5a38", "#c8691e"]},
                     "legend": {"orient": "none", "legendX": 192, "legendY": -70, "title": null, "symbolType": "stroke", "symbolSize": 484, "symbolStrokeWidth": 2, "labelFontSize": 16.5, "labelOffset": 5, "rowPadding": -6, "labelLimit": 300}},
           "strokeDash": {"field": "s", "type": "nominal",
                          "scale": {"domain": ["FlxAlpha with Ext1b", "FlxAlpha wo Ext1b", "FlxPN with Ext1b", "FlxPN wo Ext1b"], "range": [[1, 0], [8, 2, 1.5, 2, 1.5, 2], [1, 0], [8, 2, 1.5, 2, 1.5, 2]]},
                          "legend": {"orient": "none", "legendX": 192, "legendY": -70, "title": null, "symbolType": "stroke", "symbolSize": 484, "symbolStrokeWidth": 2, "labelFontSize": 16.5, "labelOffset": 5, "rowPadding": -6, "labelLimit": 300}}
         }},
        {"transform": [{"filter": "datum.s == 'FlxAlpha with Ext1b'"}],
         "mark": {"type": "line", "strokeWidth": 2, "interpolate": "monotone"},
         "encoding": {"x": {"field": "t", "type": "quantitative"}, "y": {"field": "v", "type": "quantitative"},
                      "color": {"field": "s", "type": "nominal"}, "strokeDash": {"field": "s", "type": "nominal"}}},
        {"transform": [{"filter": "datum.s == 'FlxPN wo Ext1b'"}],
         "mark": {"type": "line", "strokeWidth": 2, "interpolate": "monotone"},
         "encoding": {"x": {"field": "t", "type": "quantitative"}, "y": {"field": "v", "type": "quantitative"},
                      "color": {"field": "s", "type": "nominal"}, "strokeDash": {"field": "s", "type": "nominal"}}},
        {"transform": [{"filter": "datum.s == 'FlxAlpha wo Ext1b'"}],
         "mark": {"type": "line", "strokeWidth": 2, "interpolate": "monotone"},
         "encoding": {"x": {"field": "t", "type": "quantitative"}, "y": {"field": "v", "type": "quantitative"},
                      "color": {"field": "s", "type": "nominal"}, "strokeDash": {"field": "s", "type": "nominal"}}},
        {"transform": [{"filter": "datum.s == 'Ext1b (if not suppr)'"}],
         "mark": {"type": "line", "strokeWidth": 2, "interpolate": "monotone"},
         "encoding": {
           "x": {"field": "t", "type": "quantitative"}, "y": {"field": "v", "type": "quantitative"},
           "stroke": {"field": "s", "type": "nominal", "scale": {"domain": ["Ext1b (if not suppr)"], "range": ["#3b8ed8"]},
                      "legend": {"orient": "none", "legendX": 5, "legendY": -50, "title": null, "symbolType": "stroke", "symbolSize": 529, "symbolStrokeWidth": 2, "labelFontSize": 17, "labelOffset": 5, "labelLimit": 300}}
         }},
        {"data": {"values": [{}]},
         "mark": {"type": "text", "align": "left", "baseline": "top", "fontSize": 16.5, "lineHeight": 13.5, "lineBreak": "\n", "color": "#111111"},
         "encoding": {"x": {"datum": 4.669}, "y": {"datum": -46.13}, "text": {"value": "FxPN 1st peak\nno change"}}},
        {"data": {"values": [{}]},
         "mark": {"type": "rule", "color": "#111111", "strokeWidth": 1.1},
         "encoding": {"x": {"datum": 5.212}, "y": {"datum": -49.23}, "x2": {"datum": 5.252}, "y2": {"datum": -52.8}}},
        {"data": {"values": [{}]},
         "mark": {"type": "text", "align": "left", "baseline": "top", "fontSize": 16.5, "lineHeight": 14.7, "lineBreak": "\n", "color": "#111111"},
         "encoding": {"x": {"datum": 4.246}, "y": {"datum": -51.38}, "text": {"value": "FxAlpha\n1st peak\nno change"}}},
        {"data": {"values": [{}]},
         "mark": {"type": "rule", "color": "#111111", "strokeWidth": 1.1},
         "encoding": {"x": {"datum": 4.865}, "y": {"datum": -53.06}, "x2": {"datum": 5.111}, "y2": {"datum": -53.45}}},
        {"data": {"values": [{}]},
         "mark": {"type": "text", "align": "left", "baseline": "top", "fontSize": 16.5, "lineHeight": 13.7, "lineBreak": "\n", "color": "#111111"},
         "encoding": {"x": {"datum": 6.009}, "y": {"datum": -55.78}, "text": {"value": "FlxAlpha 2nd\npeak disapears"}}},
        {"data": {"values": [{}]},
         "mark": {"type": "rule", "color": "#111111", "strokeWidth": 1.1},
         "encoding": {"x": {"datum": 5.932}, "y": {"datum": -57.67}, "x2": {"datum": 5.58}, "y2": {"datum": -58.82}}},
        {"data": {"values": [{}]},
         "mark": {"type": "text", "align": "left", "baseline": "middle", "fontSize": 17, "color": "#111111"},
         "encoding": {"x": {"datum": 5.196}, "y": {"datum": -67.78}, "text": {"value": "FlxPN 2nd peak disapears"}}},
        {"data": {"values": [{}]},
         "mark": {"type": "rule", "color": "#111111", "strokeWidth": 1.1},
         "encoding": {"x": {"datum": 5.656}, "y": {"datum": -66.31}, "x2": {"datum": 5.571}, "y2": {"datum": -61.13}}}
      ]
    }
  ]
}
